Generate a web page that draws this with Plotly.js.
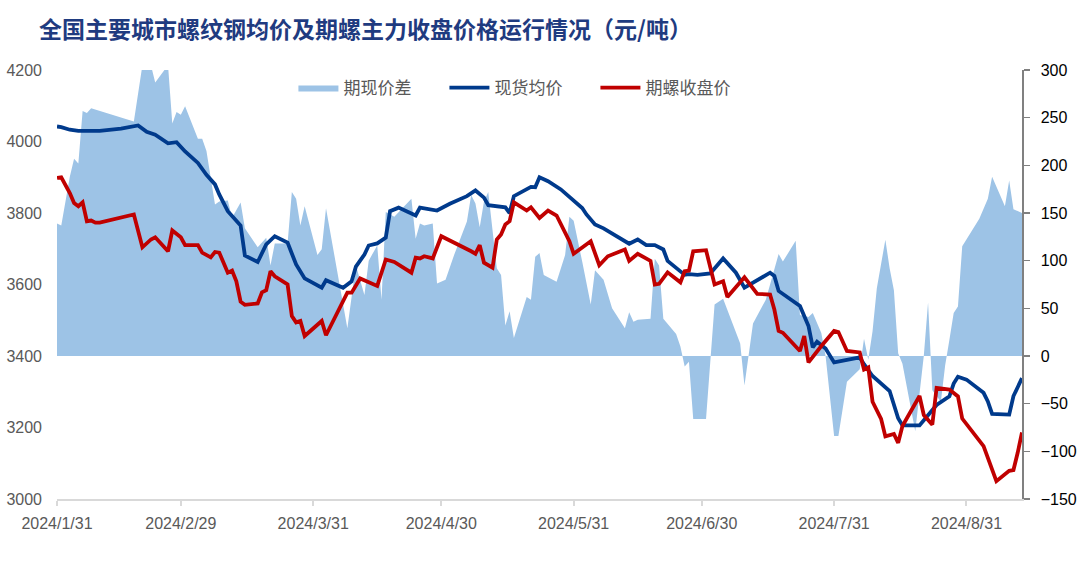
<!DOCTYPE html>
<html>
<head>
<meta charset="utf-8">
<script src="https://cdn.plot.ly/plotly-3.0.1.min.js"></script>
<style>html,body{margin:0;padding:0;background:#fff;}#chart{width:1078px;height:583px;}</style>
</head>
<body>
<div id="chart"></div>
<script>
// ---- Data ----
const spotDates = ['2024-01-31','2024-02-01','2024-02-03','2024-02-05','2024-02-10','2024-02-15','2024-02-19','2024-02-21','2024-02-23','2024-02-26','2024-02-28',
'2024-03-01','2024-03-04','2024-03-06','2024-03-08','2024-03-09','2024-03-11','2024-03-14','2024-03-15','2024-03-18','2024-03-20','2024-03-22','2024-03-25','2024-03-27','2024-03-29',
'2024-04-02','2024-04-03','2024-04-07','2024-04-09','2024-04-10','2024-04-12','2024-04-13','2024-04-15','2024-04-17','2024-04-18','2024-04-20','2024-04-24','2024-04-25','2024-04-29',
'2024-05-02','2024-05-06','2024-05-08','2024-05-10','2024-05-11','2024-05-15','2024-05-16','2024-05-17','2024-05-21','2024-05-22','2024-05-23','2024-05-25','2024-05-28','2024-05-30',
'2024-06-02','2024-06-03','2024-06-05','2024-06-07','2024-06-10','2024-06-13','2024-06-15','2024-06-17','2024-06-19','2024-06-21','2024-06-22','2024-06-26','2024-06-27','2024-06-29',
'2024-07-02','2024-07-05','2024-07-08','2024-07-10','2024-07-16','2024-07-17','2024-07-18','2024-07-23','2024-07-25','2024-07-26','2024-07-27','2024-07-29','2024-07-31',
'2024-08-06','2024-08-07','2024-08-09','2024-08-13','2024-08-14','2024-08-15','2024-08-16','2024-08-20','2024-08-24','2024-08-27','2024-08-28','2024-08-29','2024-08-31',
'2024-09-04','2024-09-05','2024-09-06','2024-09-10','2024-09-11','2024-09-13'];
const spotPrice = [4042,4040,4033,4030,4030,4036,4045,4027,4019,3995,3998,
3972,3940,3907,3880,3852,3805,3765,3681,3663,3712,3735,3717,3656,3617,
3591,3612,3591,3609,3650,3684,3709,3715,3731,3805,3815,3793,3815,3807,
3826,3847,3863,3843,3822,3816,3800,3847,3873,3872,3900,3889,3866,3845,
3814,3796,3768,3757,3735,3714,3726,3710,3710,3698,3666,3627,3629,3627,
3631,3673,3633,3591,3633,3624,3582,3540,3484,3424,3440,3421,3382,
3396,3377,3344,3302,3263,3226,3206,3206,3263,3287,3323,3342,3334,
3297,3273,3238,3236,3288,3338];

const futDates = ['2024-01-31','2024-02-01','2024-02-03','2024-02-04','2024-02-05','2024-02-06','2024-02-07','2024-02-08','2024-02-09','2024-02-10','2024-02-18','2024-02-20','2024-02-22','2024-02-23','2024-02-26','2024-02-27','2024-02-29',
'2024-03-01','2024-03-04','2024-03-05','2024-03-07','2024-03-08','2024-03-09','2024-03-11','2024-03-12','2024-03-13','2024-03-14','2024-03-15','2024-03-18','2024-03-19','2024-03-20','2024-03-21','2024-03-22','2024-03-25','2024-03-26','2024-03-27','2024-03-28','2024-03-29',
'2024-04-02','2024-04-03','2024-04-08','2024-04-09','2024-04-11','2024-04-15','2024-04-17','2024-04-19','2024-04-23','2024-04-24','2024-04-25','2024-04-26','2024-04-28','2024-04-30',
'2024-05-07','2024-05-08','2024-05-09','2024-05-10','2024-05-12','2024-05-13','2024-05-14','2024-05-15','2024-05-16','2024-05-17','2024-05-20','2024-05-21','2024-05-23','2024-05-25','2024-05-27','2024-05-30','2024-05-31',
'2024-06-04','2024-06-06','2024-06-08','2024-06-12','2024-06-13','2024-06-15','2024-06-18','2024-06-19','2024-06-20','2024-06-22','2024-06-25','2024-06-26','2024-06-27','2024-06-28',
'2024-07-01','2024-07-03','2024-07-05','2024-07-06','2024-07-10','2024-07-13','2024-07-16','2024-07-17','2024-07-18','2024-07-19','2024-07-23','2024-07-24','2024-07-25','2024-07-28','2024-07-31',
'2024-08-01','2024-08-03','2024-08-06','2024-08-07','2024-08-08','2024-08-09','2024-08-11','2024-08-12','2024-08-14','2024-08-15','2024-08-16','2024-08-20','2024-08-21','2024-08-23','2024-08-24','2024-08-27','2024-08-29','2024-08-30',
'2024-09-04','2024-09-07','2024-09-10','2024-09-11','2024-09-12','2024-09-13'];
const futPrice = [3898,3900,3856,3828,3819,3830,3777,3779,3773,3773,3796,3704,3726,3732,3693,3751,3732,
3710,3710,3689,3676,3691,3689,3633,3639,3609,3552,3543,3547,3578,3584,3637,3623,3600,3512,3494,3498,3456,
3498,3458,3577,3577,3617,3596,3670,3663,3633,3675,3673,3679,3673,3735,
3693,3686,3710,3661,3647,3726,3740,3768,3777,3830,3807,3816,3786,3807,3793,3721,3686,
3721,3654,3679,3698,3666,3686,3666,3600,3602,3634,3606,3637,3639,3693,
3696,3600,3609,3565,3620,3574,3572,3530,3470,3465,3414,3456,3382,3428,3470,
3467,3414,3410,3362,3368,3272,3224,3175,3182,3157,3204,3288,3235,3208,3311,3306,3287,3225,
3148,3050,3079,3081,3130,3186];

const basisDates = ['2024-01-31','2024-02-01','2024-02-03','2024-02-04','2024-02-05','2024-02-06','2024-02-07','2024-02-08','2024-02-18','2024-02-20','2024-02-22','2024-02-23','2024-02-26','2024-02-27','2024-02-28','2024-02-29',
'2024-03-01','2024-03-04','2024-03-05','2024-03-06','2024-03-08','2024-03-09','2024-03-11','2024-03-12','2024-03-14','2024-03-15','2024-03-18','2024-03-20','2024-03-21','2024-03-22','2024-03-25','2024-03-26','2024-03-27','2024-03-28','2024-03-29',
'2024-04-01','2024-04-02','2024-04-03','2024-04-08','2024-04-10','2024-04-12','2024-04-13','2024-04-15','2024-04-16','2024-04-17','2024-04-19','2024-04-23','2024-04-24','2024-04-25','2024-04-26','2024-04-28','2024-04-29',
'2024-05-01','2024-05-03','2024-05-06','2024-05-07','2024-05-08','2024-05-09','2024-05-10','2024-05-11','2024-05-13','2024-05-14','2024-05-15','2024-05-16','2024-05-17','2024-05-20','2024-05-21','2024-05-22','2024-05-23','2024-05-24','2024-05-27','2024-05-29','2024-05-30','2024-05-31',
'2024-06-02','2024-06-04','2024-06-05','2024-06-07','2024-06-09','2024-06-12','2024-06-13','2024-06-14','2024-06-15','2024-06-18','2024-06-19','2024-06-20','2024-06-21','2024-06-24','2024-06-25','2024-06-26','2024-06-27','2024-06-28',
'2024-07-01','2024-07-02','2024-07-03','2024-07-05','2024-07-06','2024-07-09','2024-07-10','2024-07-11','2024-07-12','2024-07-15','2024-07-18','2024-07-19','2024-07-22','2024-07-23','2024-07-25','2024-07-26','2024-07-28','2024-07-29','2024-07-31',
'2024-08-01','2024-08-03','2024-08-06','2024-08-07','2024-08-08','2024-08-09','2024-08-10','2024-08-12','2024-08-13','2024-08-14','2024-08-15','2024-08-16','2024-08-19','2024-08-21','2024-08-22','2024-08-23','2024-08-25','2024-08-26','2024-08-27','2024-08-28','2024-08-29','2024-08-30',
'2024-09-03','2024-09-05','2024-09-06','2024-09-09','2024-09-10','2024-09-11','2024-09-13'];
const basisValue = [139,137,188,207,202,257,255,260,246,305,305,287,305,244,256,253,
262,228,228,215,159,162,163,145,161,134,114,124,95,118,118,172,165,137,157,
106,112,155,29,95,64,100,116,59,151,146,165,123,139,137,139,76,
80,106,141,169,160,135,162,172,92,85,32,47,19,62,59,104,108,85,78,106,146,142,
99,54,90,80,50,29,46,36,38,39,102,95,39,23,10,-11,-6,-66,
-66,-1,54,60,48,13,-31,2,34,59,107,99,121,43,41,45,24,0,-84,
-84,-27,-14,18,-4,26,71,122,92,69,3,-8,-79,0,56,-36,-48,-10,17,45,52,115,
144,165,188,157,184,154,150];

const xTickVals = ['2024-01-31','2024-02-29','2024-03-31','2024-04-30','2024-05-31','2024-06-30','2024-07-31','2024-08-31'];
const xTickText = ['2024/1/31','2024/2/29','2024/3/31','2024/4/30','2024/5/31','2024/6/30','2024/7/31','2024/8/31'];
const seriesNames = ['期现价差','现货均价','期螺收盘价'];
const chartTitle = '全国主要城市螺纹钢均价及期螺主力收盘价格运行情况（元/吨）';

// ---- Traces ----
const traces = [
  {x: basisDates, y: basisValue, name: seriesNames[0], type: 'scatter', mode: 'lines',
   fill: 'tozeroy', fillcolor: '#9DC3E6', line: {width: 0, color: '#9DC3E6'}, yaxis: 'y'},
  {x: spotDates, y: spotPrice, name: seriesNames[1], type: 'scatter', mode: 'lines',
   line: {width: 3.8, color: '#003A8C'}, yaxis: 'y2'},
  {x: futDates, y: futPrice, name: seriesNames[2], type: 'scatter', mode: 'lines',
   line: {width: 3.8, color: '#C00000'}, yaxis: 'y2'}
];

const axisFont = {family: 'Liberation Sans, Arial, sans-serif', size: 16};

const layout = {
  width: 1078, height: 583,
  margin: {l: 57, r: 56, t: 70, b: 84, pad: 0},
  paper_bgcolor: '#ffffff', plot_bgcolor: 'rgba(0,0,0,0)',
  title: {text: chartTitle, xref: 'container', yref: 'container', x: 39/1078, xanchor: 'left', y: 1 - 30/583, yanchor: 'middle',
          font: {family: 'Noto Sans CJK SC, sans-serif', size: 23, weight: 'bold', color: '#1F3B80'}},
  showlegend: true,
  legend: {orientation: 'h', x: 0.245, xanchor: 'left', y: 1.0, yanchor: 'top', bgcolor: 'rgba(0,0,0,0)',
           font: {family: 'Noto Sans CJK SC, sans-serif', size: 17, color: '#595959'}, traceorder: 'normal',
           itemwidth: 40, entrywidth: 96, entrywidthmode: 'pixels'},
  xaxis: {type: 'date', range: ['2024-01-31', '2024-09-13'], tickmode: 'array', tickvals: xTickVals, ticktext: xTickText,
          showgrid: false, zeroline: false, showline: true, linecolor: '#D9D9D9', linewidth: 2,
          ticks: 'outside', ticklen: 5, tickwidth: 2, tickcolor: '#D9D9D9', ticklabelstandoff: 4,
          tickfont: Object.assign({}, axisFont, {color: '#595959'})},
  yaxis: {side: 'right', range: [-150, 300], dtick: 50, tick0: 0, showgrid: false, zeroline: false,
          showline: true, linecolor: '#808080', linewidth: 1.5, ticks: 'outside', ticklen: 6, tickwidth: 1.5, tickcolor: '#808080',
          ticklabelstandoff: 8, tickfont: Object.assign({}, axisFont, {color: '#000000'})},
  yaxis2: {overlaying: 'y', side: 'left', range: [3000, 4200], dtick: 200, tick0: 3000, showgrid: false, zeroline: false,
           showline: false, ticks: '', ticklabelstandoff: 14, tickfont: Object.assign({}, axisFont, {color: '#595959'})}
};

Plotly.newPlot('chart', traces, layout, {staticPlot: true, displayModeBar: false});
</script>
</body>
</html>
